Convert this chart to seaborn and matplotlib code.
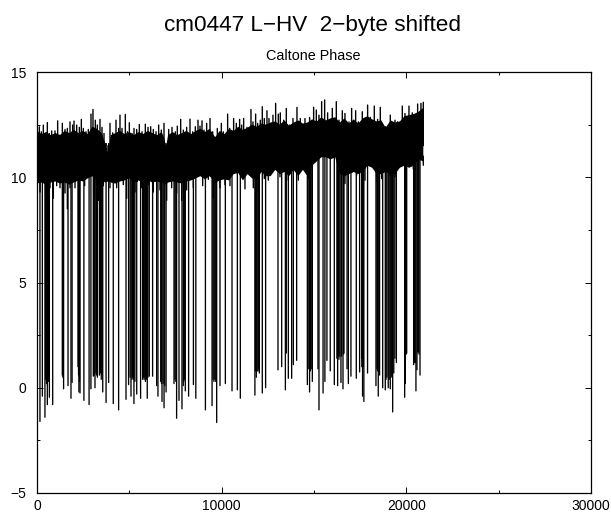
import numpy as np
import pandas as pd
import matplotlib
matplotlib.use("Agg")
import matplotlib.pyplot as plt
import seaborn as sns
from matplotlib.ticker import MultipleLocator

# upper edge of the noise band
upper_x = [0, 126, 235, 343, 433, 560, 668, 794, 975, 1119, 1245, 1372, 1516, 1643, 1787, 1931, 2004, 2148, 2292, 2401,
           2509, 2653, 2780, 2924, 3032, 3159, 3267, 3411, 3520, 3628, 3736, 3845, 3953, 4097, 4278, 4422, 4494, 4603,
           4783, 4892, 5000, 5144, 5253, 5397, 5541, 5686, 5866, 6011, 6155, 6299, 6444, 6588, 6733, 6877, 6985, 7130,
           7310, 7491, 7599, 7707, 7780, 7924, 8104, 8285, 8429, 8574, 8718, 8826, 8935, 9043, 9187, 9368, 9512, 9657,
           9765, 9982, 10090, 10323, 10432, 10648, 10793, 10973, 11082, 11190, 11370, 11587, 11695, 11840, 11948, 12092,
           12200, 12309, 12453, 12562, 12778, 12923, 13067, 13175, 13356, 13500, 13681, 13861, 14078, 14258, 14511,
           14764, 14980, 15125, 15269, 15414, 15576, 15738, 15991, 16208, 16352, 16533, 16677, 16894, 17038, 17255,
           17399, 17616, 17904, 18049, 18265, 18446, 18590, 18879, 19132, 19385, 19529, 19782, 19926, 20143, 20323,
           20612, 20792, 20919]
upper_y = [12.48, 12.4, 12.16, 12.48, 12.08, 12.6, 12.08, 12.2, 12.2, 12.68, 12.0, 12.56, 12.27, 12.32, 12.63, 12.48,
           12.67, 12.48, 12.37, 12.75, 12.32, 12.16, 12.27, 13.0, 13.22, 12.71, 12.48, 12.75, 12.37, 12.08, 11.6, 11.29,
           12.56, 12.11, 12.71, 12.32, 12.95, 12.32, 12.98, 12.16, 12.59, 12.08, 12.32, 12.27, 12.51, 12.16, 12.52,
           12.37, 12.4, 12.27, 12.16, 12.48, 12.24, 12.56, 11.52, 12.27, 12.37, 12.16, 12.43, 11.92, 12.75, 12.24,
           12.37, 12.76, 12.16, 12.4, 12.71, 12.43, 12.68, 12.24, 12.56, 12.79, 12.16, 11.89, 12.32, 12.56, 12.16,
           13.0, 12.32, 12.79, 12.56, 12.75, 12.48, 12.79, 12.37, 13.22, 12.63, 13.0, 12.56, 12.71, 13.35, 12.79,
           13.16, 12.79, 12.95, 13.51, 13.0, 13.06, 12.71, 13.27, 12.48, 12.79, 13.32, 12.79, 12.79, 12.84, 13.32,
           13.19, 12.95, 13.59, 13.67, 13.06, 13.27, 13.59, 12.71, 13.16, 13.03, 12.63, 13.27, 13.16, 12.63, 13.11,
           13.43, 12.84, 13.38, 12.75, 13.32, 12.4, 12.95, 12.71, 12.63, 13.38, 13.03, 13.38, 13.06, 13.48, 13.51, 13.56]

# lower edge of the noise band
lower_x = [0, 163, 704, 885, 1065, 1245, 1516, 1643, 1787, 2058, 2401, 2581, 2942, 3068, 3320, 3593, 3953, 4314, 4675,
           4856, 5036, 5307, 5433, 5668, 6029, 6299, 6660, 7021, 7292, 7563, 7834, 8104, 8465, 8736, 8971, 9278, 9548,
           9910, 10179, 10450, 10720, 10991, 11262, 11533, 11713, 11984, 12165, 12309, 12526, 12850, 13157, 13338,
           13609, 13880, 14150, 14421, 14692, 14980, 15323, 15594, 15810, 16063, 16316, 16677, 17074, 17309, 17525,
           17760, 18085, 18392, 18663, 19114, 19385, 19709, 20071, 20377, 20738, 20919]
lower_y = [9.7, 9.3, 9.5, 9.0, 9.6, 9.5, 9.25, 8.5, 9.5, 9.5, 10.2, 9.6, 10.57, 9.2, 8.9, 9.6, 9.5, 9.5, 9.65, 9.0,
           10.1, 9.3, 9.8, 9.5, 9.65, 9.3, 9.4, 8.9, 9.5, 9.25, 8.9, 9.4, 9.5, 10.25, 9.6, 9.9, 9.0, 9.5, 9.65, 9.6,
           10.33, 10.33, 9.45, 10.1, 9.5, 9.35, 10.73, 9.94, 9.86, 10.9, 10.02, 10.62, 9.86, 10.57, 9.86, 10.65, 9.94,
           10.9, 11.3, 11.05, 10.97, 11.32, 10.02, 9.7, 10.25, 10.1, 10.41, 9.86, 10.9, 9.8, 9.94, 10.1, 10.02, 10.81,
           10.73, 10.41, 11.44, 10.57]

# solid core of the band, below the teeth of the edges
core_x = [0, 250, 500, 750, 1000, 1250, 1500, 1750, 2000, 2250, 2500, 2750, 3000, 3250, 3500, 3700, 3850, 4000, 4250,
          4500, 4750, 5000, 5250, 5500, 5750, 6000, 6250, 6500, 6750, 6900, 6990, 7100, 7350, 7600, 7850, 8100, 8350,
          8600, 8850, 9100, 9350, 9650, 9900, 10150, 10400, 10650, 10900, 11150, 11400, 11650, 11900, 12150, 12400,
          12650, 12900, 13150, 13400, 13650, 13900, 14150, 14400, 14650, 14900, 15150, 15400, 15650, 15900, 16150,
          16400, 16650, 16900, 17150, 17400, 17650, 17900, 18150, 18400, 18650, 18880, 19150, 19400, 19650, 19900,
          20150, 20400, 20650, 20919]
core_hi = [12.2, 12.05, 12.15, 12.0, 12.1, 12.0, 12.2, 12.1, 12.25, 12.1, 12.2, 12.05, 12.4, 12.3, 12.1, 11.6, 11.2,
           12.0, 12.1, 12.2, 12.05, 12.15, 12.0, 12.15, 12.05, 12.2, 12.1, 12.0, 12.15, 11.85, 11.45, 12.0, 12.15,
           12.0, 12.1, 12.2, 12.05, 12.2, 12.3, 12.15, 12.3, 11.9, 12.2, 12.05, 12.3, 12.2, 12.4, 12.25, 12.35, 12.5,
           12.4, 12.55, 12.5, 12.6, 12.65, 12.5, 12.7, 12.45, 12.6, 12.7, 12.55, 12.6, 12.75, 12.65, 12.85, 12.7,
           12.8, 12.85, 12.6, 12.8, 12.55, 12.75, 12.55, 12.8, 12.9, 12.75, 12.65, 12.7, 12.35, 12.7, 12.6, 12.65, 12.9,
           12.95, 13.0, 13.1, 13.3]
core_lo = [9.7, 9.75, 9.65, 9.75, 9.8, 9.7, 9.75, 9.65, 9.75, 9.85, 9.8, 9.95, 10.05, 9.8, 9.85, 9.75, 9.8, 9.75,
           9.7, 9.8, 9.85, 9.95, 9.75, 9.85, 9.75, 9.85, 9.75, 9.8, 9.75, 9.7, 9.65, 9.75, 9.8, 9.75, 9.7,
           9.8, 9.85, 9.95, 10.05, 9.9, 10.05, 9.75, 9.85, 9.9, 9.85, 10.15, 10.2, 9.85, 10.15, 9.95, 9.85, 10.25,
           10.05, 10.05, 10.35, 10.15, 10.25, 10.05, 10.35, 10.05, 10.35, 10.05, 10.55, 10.75, 10.95, 10.95, 10.85,
           10.95, 10.15, 10.05, 10.15, 10.25, 10.15, 10.25, 10.55, 10.45, 10.15, 10.15, 10.25, 10.15, 10.15, 10.45,
           10.55, 10.45, 10.55, 10.85, 10.75]

# downward dropouts
spike_x = [0, 160, 290, 430, 560, 670, 850, 1370, 1440, 1680, 1840, 1900, 2220, 2270, 2330, 2540, 2820, 2920, 3050,
           3140, 3270, 3380, 3480, 3560, 3740, 3880, 4130, 4420, 4820, 4960, 5090, 5140, 5250, 5400, 5610, 5720, 5870,
           5970, 6080, 6260, 6480, 6550, 6770, 6880, 6990, 7420, 7560, 7690, 7850, 7920, 8030, 8210, 8470, 8600, 9120,
           9480, 9730, 9910, 10200, 10560, 10850, 11010, 11800, 11875, 12040, 12200, 12380, 13050, 13250, 13450, 13500,
           13610, 13790, 13880, 14060, 14640, 14760, 14910, 15215, 15270, 15490, 15590, 15700, 15880, 16100, 16280,
           16350, 16460, 16570, 16620, 16790, 16860, 17000, 17290, 17470, 17580, 17630, 17700, 17900, 18355, 18480,
           18550, 18720, 18860, 19020, 19130, 19260, 19380, 19460, 19910, 19945, 20020, 20395, 20520, 20575, 20685,
           20740]
spike_low = [-1.9, -1.6, -0.4, -1.4, -0.8, -0.45, -0.8, 0.6, -0.05, 0.1, -0.5, 0.25, 1.0, -0.2, -0.25, -0.6, -0.8,
             -0.05, 0.55, 0.0, 0.5, 0.6, 0.4, -0.2, -0.7, 0.25, -0.75, -1.05, -0.55, 0.15, -0.4, 0.4, -0.75, -0.3,
             -0.5, 0.4, 0.3, -0.5, 0.55, 0.55, 0.1, -0.4, -0.65, -0.95, -0.2, 0.2, -1.45, -0.6, -1.0, 0.1, -0.15, -0.4,
             0.15, -0.5, -1.05, -0.85, -1.65, 0.1, 0.2, -0.15, -0.1, -0.5, -0.35, 0.5, 0.7, -0.25, 0.0, 0.85, 1.0,
             -0.1, 1.65, 0.45, 0.45, 1.1, 1.3, 0.15, -0.2, 0.3, 0.9, -1.05, -0.25, 0.3, 1.3, 0.8, 0.15, 0.1, 1.35,
             0.25, -0.05, 1.65, 0.9, 0.2, 0.55, 0.45, 0.75, 1.4, -0.4, -0.65, 0.7, 0.1, -0.4, 0.6, 0.0, -0.1, 0.0,
             -0.05, -1.15, 1.4, 1.2, -0.45, 0.2, 1.65, 1.1, -0.15, 0.85, 1.6, 0.6]

# extra dropouts inside the solid dark strips
strip_x = [470, 510, 620, 1400, 2250, 2300, 3100, 3190, 3230, 3430, 3520, 5040, 5180, 5220, 5300, 5760, 5800, 5840,
           5920, 6010, 6700, 6740, 6830, 6920, 7470, 7520, 7950, 8000, 9530, 9580, 9630, 9680, 11830, 11920, 11970,
           12010, 14720, 14800, 14850, 16240, 16320, 16400, 16500, 16600, 17590, 17670, 18410, 18440, 18900, 18950,
           19070, 19180, 19220, 19320, 19960, 19990, 20440, 20480, 20620, 20650]
strip_low = [0.4, 0.2, 0.3, 0.5, 0.6, 0.3, 0.6, 0.7, 0.6, 0.7, 0.6, 0.5, 0.5, 0.4, 0.3, 0.5, 0.4, 0.5, 0.4, 0.5, 0.3,
             0.2, 0.2, 0.1, 0.4, 0.3, 0.3, 0.4, 0.4, 0.3, 0.4, 0.3, 0.8, 0.8, 0.8, 0.9, 0.9, 0.8, 0.9, 1.4, 1.5, 1.5,
             1.5, 1.6, 1.0, 1.0, 0.9, 0.8, 0.4, 0.5, 0.4, 0.5, 0.6, 0.7, 1.6, 1.6, 1.2, 1.2, 1.7, 1.7]

xticks = [0, 10000, 20000, 30000]
yticks = [-5, 0, 5, 10, 15]


def draw_lines(ax, xs, ends, start, lw):
    """Vertical two point lines from start to each end value."""
    lines = pd.DataFrame({
        'x': np.repeat(xs, 2),
        'y': np.ravel(np.column_stack([np.full(len(ends), start), ends])),
        'line': np.repeat(np.arange(len(xs)), 2),
    })
    sns.lineplot(data=lines, x='x', y='y', units='line', estimator=None, color='black', lw=lw, ax=ax,
                 legend=False, snap=False)


sns.set_style("ticks")
plt.rcParams['font.family'] = ['Liberation Sans', 'DejaVu Sans']
plt.rcParams['text.color'] = 'black'
plt.rcParams['xtick.labelcolor'] = 'black'
plt.rcParams['ytick.labelcolor'] = 'black'

fig = plt.figure(figsize=(6.11, 5.12), dpi=100)
ax = fig.add_axes([37 / 611, 1 - 493 / 512, 554 / 611, 421 / 512])

ax.fill(core_x + core_x[::-1], core_hi + core_lo[::-1], color='black', lw=0)
draw_lines(ax, upper_x, upper_y, 11.5, 1.0)
draw_lines(ax, lower_x, lower_y, 11.0, 1.0)
draw_lines(ax, spike_x + strip_x, spike_low + strip_low, 11.6, 0.95)

ax.set_xlim(0, 30000)
ax.set_ylim(-5, 15)
ax.set_xticks(xticks)
ax.set_yticks(yticks)
ax.xaxis.set_minor_locator(MultipleLocator(5000))
ax.yaxis.set_minor_locator(MultipleLocator(2.5))
ax.tick_params(which='major', direction='in', length=4.2, width=0.7, top=True, right=True, labelsize=10,
               color='black')
ax.tick_params(which='minor', direction='in', length=2.2, width=0.7, top=True, right=True, color='black')
ax.tick_params(axis='x', which='major', pad=4.5)
ax.tick_params(axis='y', which='major', pad=8)
ax.set_xlabel('')
ax.set_ylabel('')
for side in ax.spines.values():
    side.set_linewidth(0.9)
    side.set_color('black')

fig.text(313 / 611, 1 - 25 / 512, 'cm0447 L\u2212HV  2\u2212byte shifted', ha='center', va='center', fontsize=16.2)
fig.text(313 / 611, 1 - 56 / 512, 'Caltone Phase', ha='center', va='center', fontsize=10.4)

fig.savefig('out.png', dpi=100)
